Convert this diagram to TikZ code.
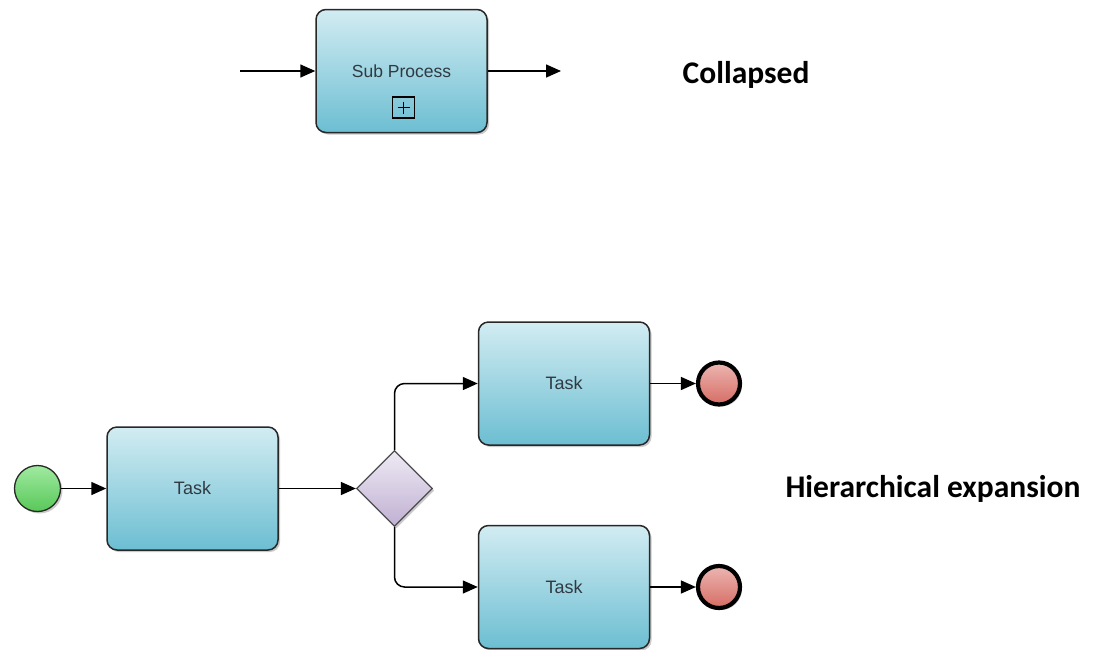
\documentclass[tikz,border=0pt]{standalone}
\usepackage{fontspec}
\setmainfont{Liberation Sans}
\newfontfamily\labelfont{Carlito}
\usetikzlibrary{arrows.meta,shapes.geometric,shadows}

\definecolor{taskTop}{RGB}{210,236,242}
\definecolor{taskBot}{RGB}{108,190,210}
\definecolor{taskText}{RGB}{48,58,66}
\definecolor{edgeDark}{RGB}{40,40,40}
\definecolor{startTop}{RGB}{160,234,160}
\definecolor{startBot}{RGB}{88,200,88}
\definecolor{endTop}{RGB}{236,182,178}
\definecolor{endBot}{RGB}{214,108,100}
\definecolor{gwTop}{RGB}{238,234,244}
\definecolor{gwBot}{RGB}{192,176,210}

\tikzset{
  boxshadow/.style={drop shadow={shadow xshift=2pt,shadow yshift=-2pt,opacity=0.35,fill=black!60}},
  task/.style={draw=edgeDark,line width=1.5pt,rounded corners=10pt,
    minimum width=171pt,minimum height=123pt,inner sep=0pt,
    top color=taskTop,bottom color=taskBot,boxshadow,
    font=\fontsize{18}{21}\selectfont,text=taskText},
  startev/.style={circle,draw=edgeDark,line width=1.3pt,minimum size=46pt,inner sep=0pt,
    top color=startTop,bottom color=startBot,boxshadow},
  endev/.style={circle,draw=black,line width=4.2pt,minimum size=42pt,inner sep=0pt,
    top color=endTop,bottom color=endBot,boxshadow},
  gateway/.style={diamond,draw=black!70,line width=1.3pt,minimum width=76pt,minimum height=76pt,
    inner sep=0pt,aspect=1,top color=gwTop,bottom color=gwBot,boxshadow},
  marker/.style={draw=black,line width=1.4pt,minimum width=22pt,minimum height=21pt,inner sep=0pt},
  flow/.style={draw=black,line width=1.5pt,-{Triangle[length=15pt,width=13pt]}},
  caption/.style={font=\labelfont\bfseries\fontsize{31.5}{36}\selectfont,inner sep=0pt,text=black}
}

\begin{document}
\begin{tikzpicture}[x=1pt,y=-1pt]
  \useasboundingbox (0,0) rectangle (1097,649);

  % collapsed sub-process
  \node[task,font=\fontsize{17.5}{21}\selectfont] (sp) at (401.5,71) {Sub Process};
  \node[marker] (plus) at (403.5,107.5) {};
  \draw[line width=1.3pt] (plus.center) ++(-6,0) -- ++(12,0)
        (plus.center) ++(0,-6) -- ++(0,12);
  \coordinate (spIn) at (240,71);
  \coordinate (spOut) at (561,71);
  \draw[flow] (spIn) -- (sp.west);
  \draw[flow] (sp.east) -- (spOut);
  \node[caption] (lblCollapsed) at (746,75) {Collapsed};

  % expanded process
  \node[startev] (start) at (37.5,488.5) {};
  \node[task] (t1) at (192.5,488.5) {Task};
  \node[gateway] (gw) at (394.5,488.5) {};
  \node[task] (t2) at (564,383.5) {Task};
  \node[task] (t3) at (564,587) {Task};
  \node[endev] (e1) at (719,383.5) {};
  \node[endev] (e2) at (719,587) {};

  \draw[flow] (start) -- (t1);
  \draw[flow] (t1) -- (gw);
  \draw[flow,rounded corners=10pt] (gw.north) |- (t2.west);
  \draw[flow,rounded corners=10pt] (gw.south) |- (t3.west);
  \draw[flow] (t2) -- (e1);
  \draw[flow] (t3) -- (e2);

  \node[caption] (lblExpansion) at (933,489) {Hierarchical expansion};
\end{tikzpicture}
\end{document}
